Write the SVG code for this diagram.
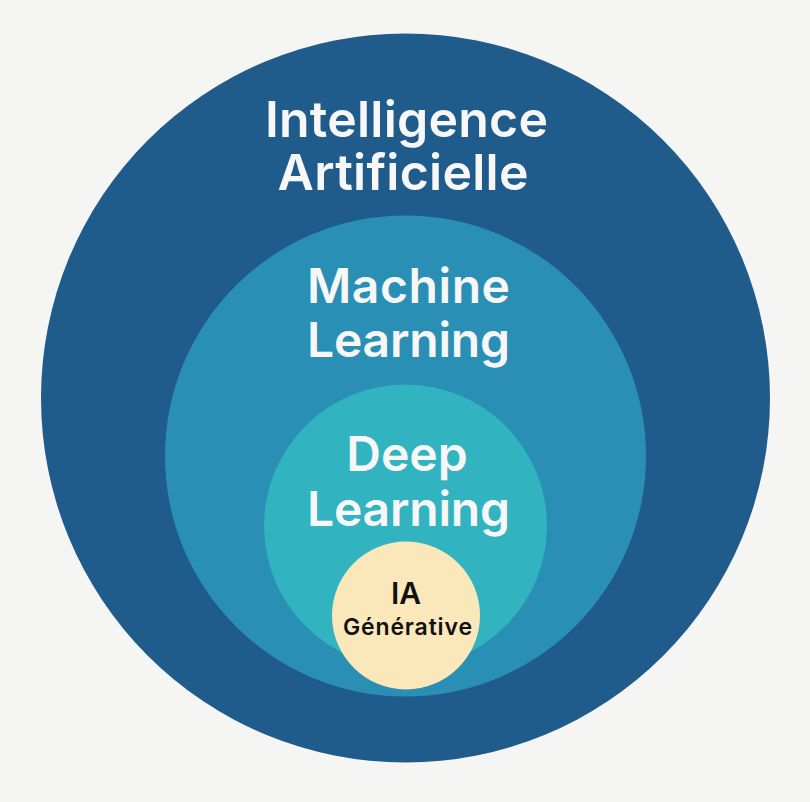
<svg xmlns="http://www.w3.org/2000/svg" width="810" height="802" viewBox="0 0 810 802">
<style>
.lbl{font-family:Inter,"Open Sans","Liberation Sans",sans-serif;font-weight:600;fill:#F7F7F7;text-anchor:middle;font-variant-ligatures:none}
.dark{font-family:Inter,"Open Sans","Liberation Sans",sans-serif;font-weight:600;fill:#111111;text-anchor:middle;font-variant-ligatures:none}
</style>
<rect width="810" height="802" fill="#F5F5F4"/>
<g id="ia">
<circle cx="405.5" cy="398" r="364.5" fill="#1F5B8B"/>
<text class="lbl" x="406.5" y="137" font-size="50" textLength="283">Intelligence</text>
<text class="lbl" x="403" y="190" font-size="50" textLength="251">Artificielle</text>
</g>
<g id="ml">
<circle cx="405.5" cy="456" r="240.5" fill="#2A8FB4"/>
<text class="lbl" x="408.5" y="303" font-size="48" textLength="203">Machine</text>
<text class="lbl" x="408.5" y="357" font-size="48" textLength="203">Learning</text>
</g>
<g id="dl">
<circle cx="405.5" cy="526" r="141.5" fill="#31B3C0"/>
<text class="lbl" x="407" y="471" font-size="48">Deep</text>
<text class="lbl" x="408.5" y="526" font-size="48" textLength="203">Learning</text>
</g>
<g id="gen">
<circle cx="406" cy="615.5" r="74" fill="#FBE8BA"/>
<text class="dark" x="406" y="604" font-size="30" font-weight="700">IA</text>
<text class="dark" x="407.5" y="634.5" font-size="23" textLength="129">Générative</text>
</g>
<g id="connectors"/>
</svg>
